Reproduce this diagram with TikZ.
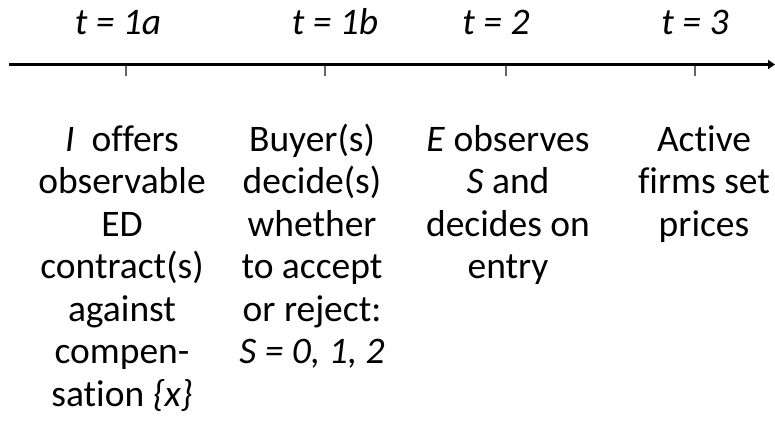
\documentclass[tikz,border=0pt]{standalone}
\usepackage{fontspec}
\setmainfont{Carlito}[Ligatures={NoCommon}]
\usepackage{tikz}
\usetikzlibrary{arrows.meta,positioning,calc}

\begin{document}
\begin{tikzpicture}[
    x=1pt, y=-1pt,
    stage/.style={align=center, inner sep=0pt, anchor=base, font=\fontsize{37.5}{42.5}\selectfont},
    period/.style={inner sep=0pt, anchor=base, font=\fontsize{37.5}{40}\selectfont\itshape},
    axis/.style={-{Triangle[length=7pt,width=9pt]}, line width=3pt},
    tick/.style={line width=1.6pt, black!60}
]
\useasboundingbox (0,0) rectangle (775,431);

% time axis
\coordinate (start) at (9,64.5);
\coordinate (end) at (775,64.5);
\draw[axis] (start) -- (end);

\coordinate (ta) at (126,66);
\coordinate (tb) at (325,66);
\coordinate (tc) at (506,66);
\coordinate (td) at (695,66);
\foreach \t in {ta,tb,tc,td}
    \draw[tick] (\t) -- ++(0,10);

% periods
\node[period] (p1a) at (118,34) {t = 1a};
\node[period] (p1b) at (335,34) {t = 1b};
\node[period] (p2) at (496,34) {t = 2};
\node[period] (p3) at (695,34) {t = 3};

% what happens (base = last line)
\node[stage] (offer) at (122,406) {\textit{I}\ \ offers\\observable\\ED\\contract(s)\\against\\compen-\\sation \textit{\{x\}}};
\node[stage] (accept) at (312,363.5) {Buyer(s)\\decide(s)\\whether\\to accept\\or reject:\\\textit{S = 0, 1, 2}};
\node[stage] (entry) at (508,278.5) {\textit{E} observes\\\textit{S} and\\decides on\\entry};
\node[stage] (prices) at (704,236) {Active\\firms set\\prices};
\end{tikzpicture}
\end{document}
